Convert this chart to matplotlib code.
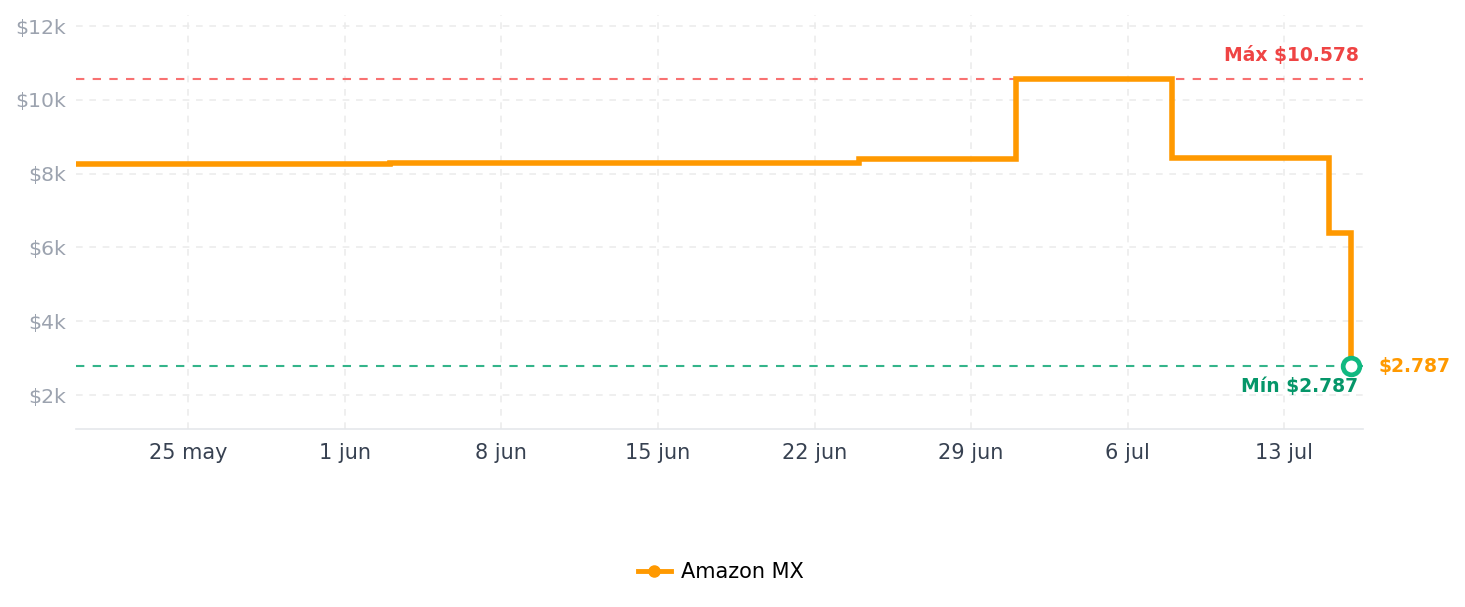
import matplotlib
matplotlib.use("Agg")
import matplotlib.pyplot as plt
import pandas as pd
from matplotlib.lines import Line2D

# Data
dates = ["2025-05-20", "2025-06-03", "2025-06-24", "2025-07-01", "2025-07-08", "2025-07-15", "2025-07-16"]
prices = [8260, 8290, 8400, 10578, 8430, 6400, 2787]
series_name = "Amazon MX"
max_price = 10578
min_price = 2787
tick_dates = ["2025-05-25", "2025-06-01", "2025-06-08", "2025-06-15", "2025-06-22", "2025-06-29", "2025-07-06", "2025-07-13"]
tick_labels = ["25 may", "1 jun", "8 jun", "15 jun", "22 jun", "29 jun", "6 jul", "13 jul"]
y_ticks = [2000, 4000, 6000, 8000, 10000, 12000]
y_labels = ["$2k", "$4k", "$6k", "$8k", "$10k", "$12k"]

x = pd.to_datetime(dates)

fig = plt.figure(figsize=(14.65, 6.07), dpi=100)
ax = fig.add_axes([76/1465, 1 - 429/607, (1363-76)/1465, (429-15)/607])

orange = "#ff9900"
ax.step(x, prices, where="post", color=orange, lw=4, solid_joinstyle="miter", zorder=3)
ax.plot([x[-1]], [prices[-1]], "o", ms=12, mfc="white", mec="#10b981", mew=3.4, zorder=5)

ax.axhline(max_price, color="#f87171", lw=1.5, ls=(0, (4, 4)), zorder=2)
ax.axhline(min_price, color="#34b48a", lw=1.5, ls=(0, (4, 4)), zorder=2)

ax.set_xlim(pd.Timestamp("2025-05-19 23:30"), pd.Timestamp("2025-07-16 12:30"))
ax.set_ylim(1080, 12300)

ax.set_xticks(pd.to_datetime(tick_dates))
ax.set_xticklabels(tick_labels)
ax.set_yticks(y_ticks)
ax.set_yticklabels(y_labels)

ax.grid(True, color="#ececec", ls=(0, (4, 4)), lw=1.2)
ax.set_axisbelow(True)
for s in ["top", "right", "left"]:
    ax.spines[s].set_visible(False)
ax.spines["bottom"].set_color("#e5e7eb")
ax.spines["bottom"].set_linewidth(1.2)
ax.tick_params(axis="both", length=0)
ax.tick_params(axis="x", colors="#374151", labelsize=15, pad=10)
ax.tick_params(axis="y", colors="#9ca3af", labelsize=14.7, pad=7)

trans = ax.get_yaxis_transform()
ax.text(0.9965, max_price + 380, "Máx $10.578", transform=trans, ha="right", va="bottom",
        color="#ef4444", fontsize=13.5, fontweight="bold")
ax.text(0.9965, min_price - 300, "Mín $2.787", transform=trans, ha="right", va="top",
        color="#059669", fontsize=13.5, fontweight="bold")
ax.text(1.012, min_price, "$2.787", transform=trans, ha="left", va="center",
        color=orange, fontsize=13.5, fontweight="bold", clip_on=False)

handle = Line2D([0], [0], color=orange, lw=3.5, marker="o", ms=8)
fig.legend([handle], [series_name], loc="center", bbox_to_anchor=(0.492, 1 - 572/607),
           frameon=False, fontsize=15, handlelength=1.6, handletextpad=0.5)

fig.savefig("out.png", dpi=100)
